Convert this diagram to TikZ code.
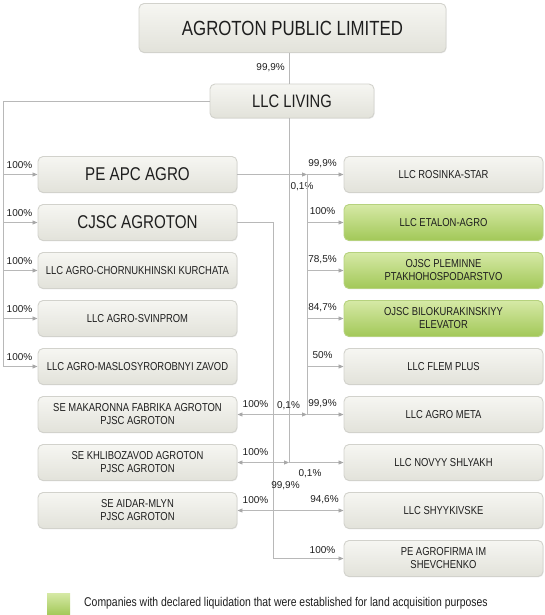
\documentclass[tikz,border=0pt]{standalone}
\usepackage{fontspec}
\setmainfont{Liberation Sans}[FakeStretch=0.82]
\newfontfamily\lblfont{Liberation Sans}
\usetikzlibrary{arrows.meta,shadows}
\definecolor{linegray}{HTML}{B8B8B8}
\definecolor{tipgray}{HTML}{A8A8A8}
\definecolor{boxline}{HTML}{D2D2CC}
\definecolor{boxtop}{HTML}{F6F6F2}
\definecolor{boxbot}{HTML}{E2E2DA}
\definecolor{greenline}{HTML}{B6D27E}
\definecolor{greentop}{HTML}{D6E9A6}
\definecolor{greenbot}{HTML}{A2C858}
\definecolor{txt}{HTML}{1E1E1E}
\begin{document}
\begin{tikzpicture}[x=1pt,y=-1pt,
  box/.style={rectangle, rounded corners=5pt, draw=boxline, line width=0.9pt,
    top color=boxtop, bottom color=boxbot, minimum width=199pt, minimum height=36pt,
    align=center, text=txt, inner sep=2pt,
    drop shadow={shadow xshift=0.6pt, shadow yshift=-0.9pt, opacity=0.15}},
  gbox/.style={box, draw=greenline, top color=greentop, bottom color=greenbot},
  txts/.style={font=\fontsize{11.5}{13}\selectfont},
  txtb/.style={font=\fontsize{18.5}{22}\selectfont},
  lbl/.style={font=\lblfont\fontsize{10}{12}\selectfont, text=txt, inner sep=0pt},
  ln/.style={draw=linegray, line width=0.8pt},
  arr/.style={ln, -{Triangle[length=5pt,width=4pt,color=tipgray]}}]
\useasboundingbox (0,0) rectangle (545,615);

% top nodes
\node[box, minimum width=307pt, minimum height=49pt, font=\fontsize{20.5}{24}\selectfont] (apl) at (292.5,28) {AGROTON PUBLIC LIMITED};
\node[box, minimum width=164pt, minimum height=34pt, font=\fontsize{18}{22}\selectfont] (liv) at (292,101) {LLC LIVING};

% left column
\node[box, txtb] (pe)   at (137.5,174.5) {PE APC AGRO};
\node[box, txtb] (cjsc) at (137.5,222.5) {CJSC AGROTON};
\node[box, txts] (chk)  at (137.5,270.5) {LLC AGRO-CHORNUKHINSKI KURCHATA};
\node[box, txts] (svn)  at (137.5,318.5) {LLC AGRO-SVINPROM};
\node[box, txts] (msl)  at (137.5,366.5) {LLC AGRO-MASLOSYROROBNYI ZAVOD};
\node[box, txts] (mak)  at (137.5,414.5) {SE MAKARONNA FABRIKA AGROTON\\PJSC AGROTON};
\node[box, txts] (khl)  at (137.5,462.5) {SE KHLIBOZAVOD AGROTON\\PJSC AGROTON};
\node[box, txts] (aid)  at (137.5,510.5) {SE AIDAR-MLYN\\PJSC AGROTON};

% right column
\node[box, txts]  (ros) at (443.5,174.5) {LLC ROSINKA-STAR};
\node[gbox, txts] (eta) at (443.5,222.5) {LLC ETALON-AGRO};
\node[gbox, txts] (ple) at (443.5,270.5) {OJSC PLEMINNE\\PTAKHOHOSPODARSTVO};
\node[gbox, txts] (bil) at (443.5,318.5) {OJSC BILOKURAKINSKIYY\\ELEVATOR};
\node[box, txts]  (flm) at (443.5,366.5) {LLC FLEM PLUS};
\node[box, txts]  (met) at (443.5,414.5) {LLC AGRO META};
\node[box, txts]  (nov) at (443.5,462.5) {LLC NOVYY SHLYAKH};
\node[box, txts]  (shy) at (443.5,510.5) {LLC SHYYKIVSKE};
\node[box, txts]  (agf) at (443.5,558.5) {PE AGROFIRMA IM\\SHEVCHENKO};

% bus coordinates
\coordinate (lb) at (3,0);
\coordinate (vx) at (289,0);
\coordinate (cx) at (273,0);
\coordinate (rx) at (307,0);

% top link
\draw[ln] (vx |- apl.south) -- (vx |- liv.north);
\node[lbl, anchor=east] (l0) at (285,68) {99,9\%};

% left bus from LLC LIVING
\draw[ln] (liv.west) -| (lb |- msl.west);
\foreach \n in {pe,cjsc,chk,svn,msl}{
  \draw[arr] (lb |- \n.west) -- (\n.west);
  \path (lb |- \n.west) ++(16.5,-9) node[lbl] {100\%};
}

% LLC LIVING down line
\draw[ln] (vx |- liv.south) -- (vx |- nov.west);

% PE APC to right bus
\draw[arr] (pe.east) -- (rx |- pe.east);
\node[lbl] (l01) at (302,187) {0,1\%};
\draw[ln] (rx |- ros.west) -- (rx |- met.west);
\foreach \n/\p in {ros/99{,}9\%,eta/100\%,ple/78{,}5\%,bil/84{,}7\%,flm/50\%}{
  \draw[arr] (rx |- \n.west) -- (\n.west);
  \path (\n.west) ++(-21,-11) node[lbl] {\p};
}

% CJSC bus
\draw[ln] (cjsc.east) -| (cx |- agf.west);
\draw[arr] (cx |- agf.west) -- (agf.west);
\node[lbl] (l9) at (322.5,550) {100\%};

% row MAKARONNA / AGRO META
\draw[arr] (cx |- mak.east) -- (mak.east);
\draw[arr] (cx |- mak.east) -- (rx |- mak.east);
\draw[arr] (rx |- met.west) -- (met.west);
\node[lbl] (l6a) at (255.5,404) {100\%};
\node[lbl] (l6b) at (288.5,406) {0,1\%};
\node[lbl] (l6c) at (322.5,404) {99,9\%};

% row KHLIBOZAVOD / NOVYY SHLYAKH
\draw[arr] (cx |- khl.east) -- (khl.east);
\draw[arr] (cx |- khl.east) -- (vx |- khl.east);
\draw[arr] (vx |- nov.west) -- (nov.west);
\node[lbl] (l7a) at (255.5,452) {100\%};
\node[lbl] (l7b) at (310,474) {0,1\%};
\node[lbl] (l7c) at (285.5,486) {99,9\%};

% row AIDAR-MLYN / SHYYKIVSKE
\draw[arr] (cx |- aid.east) -- (aid.east);
\draw[arr] (cx |- shy.west) -- (shy.west);
\node[lbl] (l8a) at (255.5,500) {100\%};
\node[lbl] (l8b) at (324.5,500) {94,6\%};

% legend
\node[rectangle, minimum width=23pt, minimum height=22pt, top color=greentop, bottom color=greenbot, draw=none] (legsq) at (58.5,604) {};
\node[anchor=west, text=txt, inner sep=0pt, font=\fontsize{12.7}{15}\selectfont] (legtx) at (84,603) {Companies with declared liquidation that were established for land acquisition purposes};
\end{tikzpicture}
\end{document}
